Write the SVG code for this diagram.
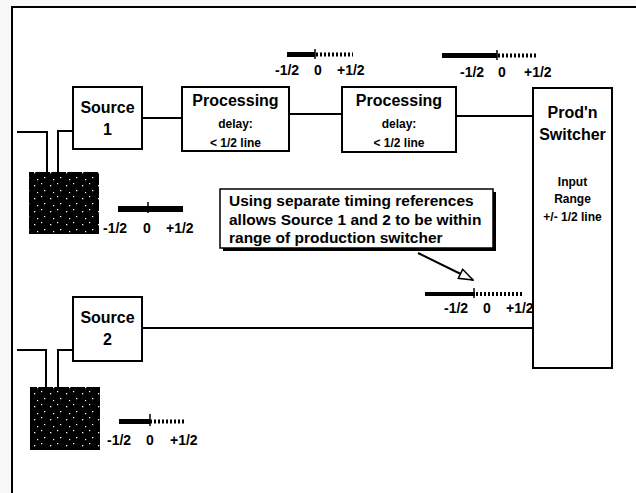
<svg xmlns="http://www.w3.org/2000/svg" width="636" height="493" viewBox="0 0 636 493">
<style>
.box{fill:#fff;stroke:#000;stroke-width:2}
.t{font-family:"Liberation Sans",Arial,sans-serif;font-weight:bold;fill:#000}
.big{font-size:16px}
.sm{font-size:12px}
.lab{font-size:14px}
.note{font-size:15.5px}
.c{text-anchor:middle}
.ln{fill:none;stroke:#000;stroke-width:2}
.dots{fill:none;stroke:#000;stroke-width:4;stroke-dasharray:2 2}
</style>
<defs>
<pattern id="noise" width="16" height="13" patternUnits="userSpaceOnUse">
<rect width="16" height="13" fill="#000"/>
<rect x="2" y="3" width="1.3" height="1.3" fill="#fff"/>
<rect x="9" y="1" width="1.2" height="1.2" fill="#fff"/>
<rect x="12" y="8" width="1.3" height="1.2" fill="#fff"/>
<rect x="5" y="10" width="1.2" height="1.2" fill="#fff"/>
</pattern>
<marker id="openArrow" markerWidth="16" markerHeight="12" refX="15" refY="6" orient="auto" markerUnits="userSpaceOnUse">
<path d="M1,1 L15,6 L1,11 Z" fill="#fff" stroke="#000" stroke-width="1.5"/>
</marker>
</defs>
<rect width="636" height="493" fill="#f8f8f8"/>
<rect x="12" y="7" width="630" height="492" fill="#fff" stroke="#000" stroke-width="2"/>

<g id="connectors">
<line class="ln" x1="142" y1="118" x2="182" y2="118"/>
<line class="ln" x1="289" y1="114" x2="342" y2="114"/>
<line class="ln" x1="456" y1="116" x2="533" y2="116"/>
<line class="ln" x1="142" y1="328" x2="533" y2="328"/>
<polyline class="ln" points="17,132 47,132 47,172"/>
<polyline class="ln" points="73,131 58,131 58,172"/>
<polyline class="ln" points="17,350 46,350 46,387"/>
<polyline class="ln" points="73,350 58,350 58,387"/>
<line x1="418" y1="253" x2="473" y2="280" stroke="#000" stroke-width="2" marker-end="url(#openArrow)"/>
</g>

<g id="source1">
<rect class="box" x="73" y="87" width="69" height="62"/>
<text class="t big c" x="107.5" y="113">Source</text>
<text class="t big c" x="107.5" y="135">1</text>
</g>

<g id="processing1">
<rect class="box" x="182" y="87" width="107" height="64"/>
<text class="t big c" x="235.5" y="106">Processing</text>
<text class="t sm c" x="235.5" y="128">delay:</text>
<text class="t sm c" x="235.5" y="147">&lt; 1/2 line</text>
</g>

<g id="processing2">
<rect class="box" x="342" y="87" width="114" height="65"/>
<text class="t big c" x="399" y="106">Processing</text>
<text class="t sm c" x="399" y="128">delay:</text>
<text class="t sm c" x="399" y="147">&lt; 1/2 line</text>
</g>

<g id="switcher">
<rect class="box" x="533" y="88" width="79" height="280"/>
<text class="t big c" x="572.5" y="118">Prod'n</text>
<text class="t big c" x="572.5" y="140">Switcher</text>
<text class="t sm c" x="572.5" y="186">Input</text>
<text class="t sm c" x="572.5" y="203">Range</text>
<text class="t sm c" x="572.5" y="221">+/- 1/2 line</text>
</g>

<g id="source2">
<rect class="box" x="73" y="297" width="69" height="64"/>
<text class="t big c" x="107.5" y="323">Source</text>
<text class="t big c" x="107.5" y="345">2</text>
</g>

<g id="syncgen1">
<rect x="29" y="172" width="70" height="62" fill="url(#noise)"/>
</g>
<g id="syncgen2">
<rect x="30" y="387" width="70" height="63" fill="url(#noise)"/>
</g>

<g id="scale1">
<rect x="118" y="206" width="65" height="6" fill="#000"/>
<line x1="148" y1="202" x2="148" y2="213" stroke="#000" stroke-width="1.5"/>
<text class="t lab" x="103" y="233">-1/2</text>
<text class="t lab" x="143" y="233">0</text>
<text class="t lab" x="166" y="233">+1/2</text>
</g>

<g id="scale2">
<rect x="119" y="419" width="31" height="5" fill="#000"/>
<line class="dots" x1="150" y1="421.5" x2="185" y2="421.5" stroke-width="3"/>
<line x1="150" y1="414" x2="150" y2="426" stroke="#000" stroke-width="1.5"/>
<text class="t lab" x="107" y="445">-1/2</text>
<text class="t lab" x="146" y="445">0</text>
<text class="t lab" x="170" y="445">+1/2</text>
</g>

<g id="scaleA">
<rect x="287" y="52" width="28" height="5" fill="#000"/>
<line class="dots" x1="316" y1="54.5" x2="353" y2="54.5" stroke-width="3"/>
<line x1="315" y1="49" x2="315" y2="59" stroke="#000" stroke-width="1.5"/>
<text class="t lab" x="275" y="75">-1/2</text>
<text class="t lab" x="314" y="75">0</text>
<text class="t lab" x="337" y="75">+1/2</text>
</g>

<g id="scaleB">
<rect x="442" y="53" width="55" height="5" fill="#000"/>
<line class="dots" x1="498" y1="55.5" x2="538" y2="55.5" stroke-width="3"/>
<line x1="497" y1="50" x2="497" y2="60" stroke="#000" stroke-width="1.5"/>
<text class="t lab" x="460" y="77">-1/2</text>
<text class="t lab" x="498" y="77">0</text>
<text class="t lab" x="524" y="77">+1/2</text>
</g>

<g id="scaleC">
<rect x="425" y="292" width="50" height="4" fill="#000"/>
<line class="dots" x1="476" y1="294" x2="522" y2="294" stroke-width="3"/>
<line x1="474" y1="288" x2="474" y2="298" stroke="#000" stroke-width="1.5"/>
<text class="t lab" x="444" y="313">-1/2</text>
<text class="t lab" x="483" y="313">0</text>
<text class="t lab" x="506" y="313">+1/2</text>
</g>

<g id="callout">
<rect x="223" y="192" width="273" height="59" fill="#000"/>
<rect x="220" y="189" width="273" height="59" fill="#fff" stroke="#000" stroke-width="1.5"/>
<text class="t note" x="229" y="206">Using separate timing references</text>
<text class="t note" x="229" y="225">allows Source 1 and 2 to be within</text>
<text class="t note" x="229" y="243">range of production switcher</text>
</g>
</svg>
